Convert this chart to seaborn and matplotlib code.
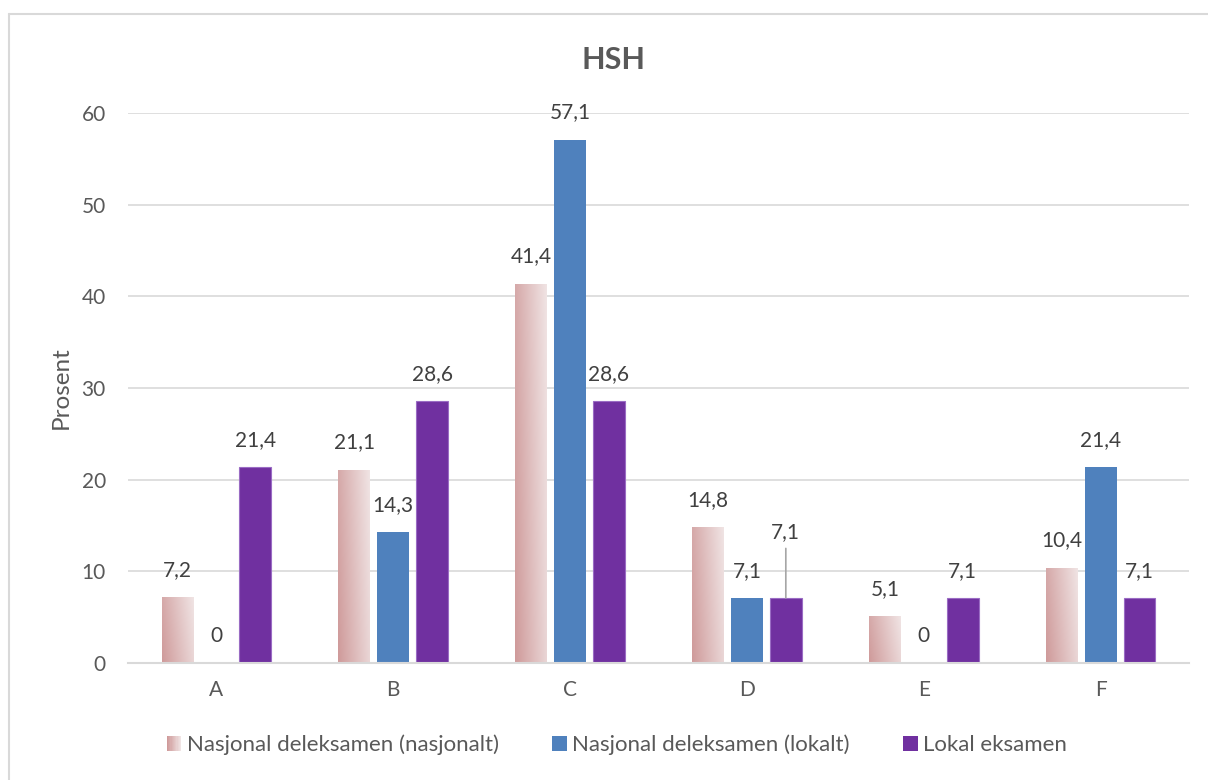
import numpy as np
import pandas as pd
import matplotlib
matplotlib.use("Agg")
import matplotlib.pyplot as plt
from matplotlib.patches import Rectangle
from matplotlib.lines import Line2D
from matplotlib.legend_handler import HandlerBase
from matplotlib.colors import LinearSegmentedColormap, to_rgb
import seaborn as sns

# Grade distribution, per cent
grades = ["A", "B", "C", "D", "E", "F"]
series = ["Nasjonal deleksamen (nasjonalt)", "Nasjonal deleksamen (lokalt)", "Lokal eksamen"]
nasjonalt = [7.2, 21.1, 41.4, 14.8, 5.1, 10.4]
lokalt = [0, 14.3, 57.1, 7.1, 0, 21.4]
lokal_eksamen = [21.4, 28.6, 28.6, 7.1, 7.1, 7.1]
title = "HSH"
y_label = "Prosent"
y_ticks = [0, 10, 20, 30, 40, 50, 60]

TEXT = "#595959"
GRID = "#d9d9d9"
PINK_DARK = "#cf9a9a"
PINK_LIGHT = "#f0e4e4"
BLUE = "#4f81bd"
PURPLE = "#7030a0"

sns.set_style("white")
plt.rcParams["font.family"] = ["Lato", "DejaVu Sans"]

df = pd.DataFrame({
    "Karakter": grades * 3,
    "Serie": [s for s in series for _ in grades],
    "Prosent": nasjonalt + lokalt + lokal_eksamen,
})

fig = plt.figure(figsize=(12.08, 7.80), dpi=100)
ax = fig.add_axes([128 / 1208, (780 - 663) / 780, (1189 - 128) / 1208, (663 - 113) / 780])

palette = {series[0]: PINK_DARK, series[1]: BLUE, series[2]: PURPLE}
sns.barplot(data=df, x="Karakter", y="Prosent", hue="Serie", hue_order=series,
            order=grades, palette=palette, width=0.66, gap=0.18, saturation=1,
            legend=False, ax=ax)

# Gradient fill for the first series
pink_cmap = LinearSegmentedColormap.from_list("pink", [PINK_DARK, PINK_LIGHT])
gx, gy = np.meshgrid(np.linspace(0, 1, 64), np.linspace(0, 1, 64))
grad = 0.8 * gx + 0.2 * gy
for patch in ax.containers[0]:
    patch.set_facecolor("none")
    patch.set_edgecolor("none")
    x0, y0 = patch.get_x(), patch.get_y()
    w, h = patch.get_width(), patch.get_height()
    if h <= 0:
        continue
    im = ax.imshow(grad, cmap=pink_cmap, extent=[x0, x0 + w, y0 + h, y0],
                   aspect="auto", origin="upper", zorder=patch.get_zorder())
    im.set_clip_path(patch)

for patch in ax.containers[1]:
    patch.set_edgecolor("none")
for patch in ax.containers[2]:
    patch.set_edgecolor("#9a6cc4")
    patch.set_linewidth(0.8)

ax.set_xlim(-0.5, len(grades) - 0.5)
ax.set_ylim(0, 60)

# Value labels
def fmt(v):
    return "0" if v == 0 else f"{v:.1f}".replace(".", ",")

for ci, cont in enumerate(ax.containers):
    for gi, patch in enumerate(cont):
        v = patch.get_height()
        xc = patch.get_x() + patch.get_width() / 2
        if ci == 2 and grades[gi] == "D":
            # label moved up, with a leader line back to the bar
            ax.annotate(fmt(v), (xc, v), xytext=(0, 47.5), textcoords="offset points",
                        ha="center", va="center", fontsize=15, color="#404040")
            ax.annotate("", (xc, v), xytext=(xc, v + 5.4),
                        arrowprops=dict(arrowstyle="-", color="#a6a6a6", lw=1.2,
                                        shrinkA=0, shrinkB=0))
        else:
            ax.annotate(fmt(v), (xc, v), xytext=(0, 19.5), textcoords="offset points",
                        ha="center", va="center", fontsize=15, color="#404040")

# Axes styling
ax.set_yticks(y_ticks)
ax.yaxis.grid(True, color=GRID, linewidth=1.2)
ax.set_axisbelow(True)
for side in ["left", "right", "top"]:
    ax.spines[side].set_visible(False)
ax.spines["bottom"].set_color(GRID)
ax.spines["bottom"].set_linewidth(1.5)
ax.tick_params(axis="both", length=0, labelsize=15, colors=TEXT)
ax.tick_params(axis="y", pad=16)
ax.tick_params(axis="x", pad=12)
ax.set_xlabel("")
ax.set_ylabel(y_label, fontsize=17.5, color=TEXT)
ax.yaxis.set_label_coords(-0.053, 0.5)

fig.text(614 / 1208, 1 - 60 / 780, title, ha="center", va="center",
         fontsize=22, fontweight="bold", color=TEXT)

# Legend
class GradientHandler(HandlerBase):
    def create_artists(self, legend, orig_handle, xdescent, ydescent, width, height, fontsize, trans):
        n = 12
        c0, c1 = np.array(to_rgb(PINK_DARK)), np.array(to_rgb(PINK_LIGHT))
        size = height
        x0 = -xdescent + width - size
        arts = []
        for i in range(n):
            c = c0 + (c1 - c0) * i / (n - 1)
            arts.append(Rectangle((x0 + size * i / n, -ydescent), size / n + 0.05, size,
                                  facecolor=c, edgecolor="none", transform=trans))
        return arts

class SquareHandler(HandlerBase):
    def create_artists(self, legend, orig_handle, xdescent, ydescent, width, height, fontsize, trans):
        size = height
        r = Rectangle((-xdescent + width - size, -ydescent), size, size,
                      facecolor=orig_handle.get_facecolor(), edgecolor="none", transform=trans)
        return [r]

h_pink = Rectangle((0, 0), 1, 1, facecolor=PINK_DARK)
h_blue = Rectangle((0, 0), 1, 1, facecolor=BLUE)
h_purple = Rectangle((0, 0), 1, 1, facecolor=PURPLE)
leg = fig.legend([h_pink, h_blue, h_purple], series, loc="center",
                 bbox_to_anchor=(617 / 1208, 1 - 745 / 780), ncol=3, frameon=False,
                 fontsize=16, handlelength=0.65, handleheight=0.65, handletextpad=0.25,
                 columnspacing=2.4,
                 handler_map={h_pink: GradientHandler(), h_blue: SquareHandler(),
                              h_purple: SquareHandler()})
for t in leg.get_texts():
    t.set_color(TEXT)

# Chart frame
fig.add_artist(Line2D([8.5 / 1208, 8.5 / 1208], [0, 1 - 14 / 780], color=GRID, lw=1.5,
                      transform=fig.transFigure))
fig.add_artist(Line2D([8.5 / 1208, 1], [1 - 14 / 780, 1 - 14 / 780], color=GRID, lw=1.5,
                      transform=fig.transFigure))

fig.savefig("out.png", dpi=100)
